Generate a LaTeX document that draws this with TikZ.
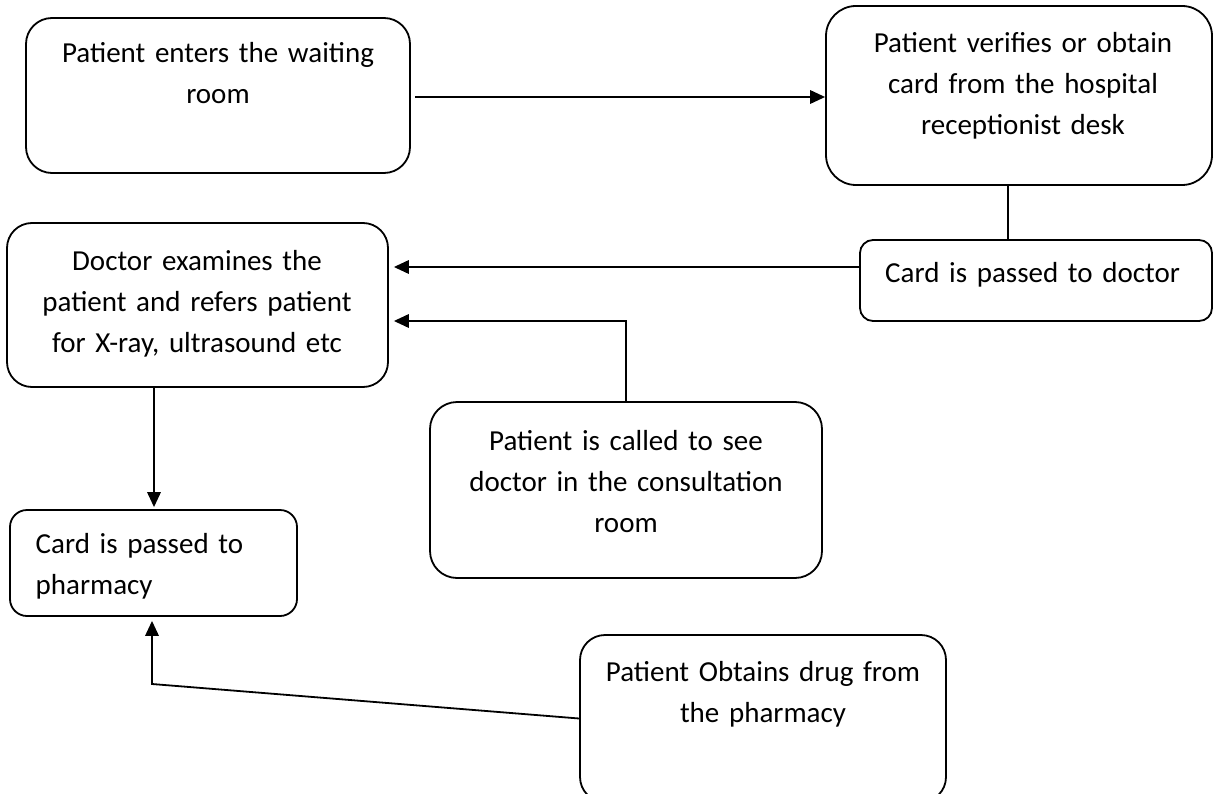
\documentclass[tikz,border=0pt]{standalone}
\usepackage{fontspec}
\setmainfont{Carlito}
\usetikzlibrary{arrows.meta,fit,calc}
\tikzset{
  box/.style={draw, line width=1.8pt, inner sep=0pt, rounded corners=#1},
  box/.default=26pt,
  ctext/.style={inner sep=0pt, anchor=base, align=center, text width=380pt, font=\fontsize{29}{41}\selectfont},
  ltext/.style={inner sep=0pt, anchor=base west, align=left, text width=340pt, font=\fontsize{29}{41}\selectfont},
  conn/.style={line width=1.8pt},
  arr/.style={conn, -{Triangle[length=15pt,width=13.5pt]}}
}
\begin{document}
\begin{tikzpicture}[x=1pt,y=-1pt]
\useasboundingbox (0,0) rectangle (1214,794);
\clip (0,0) rectangle (1214,794);
% boxes
\node[box, fit={(26,18) (410,173)}] (b1) {};
\node[box=30pt, fit={(826,6) (1212,185)}] (b2) {};
\node[box=13pt, fit={(860,240) (1212,321)}] (c2) {};
\node[box=25pt, fit={(7,223) (388,387)}] (d) {};
\node[box=27pt, fit={(430,402) (822,578)}] (cs) {};
\node[box=17pt, fit={(10,510) (297,616)}] (ph) {};
\node[box=25pt, fit={(580,635) (946,802)}] (ob) {};
% texts
\node[ctext] (t1) at (218,63) {Patient enters the waiting\\room};
\node[ctext] (t2) at (1023,53) {Patient verifies or obtain\\card from the hospital\\receptionist desk};
\node[ltext] (t3) at (885,282) {Card is passed to doctor};
\node[ctext] (t4) at (197,270) {Doctor examines the\\patient and refers patient\\for X-ray, ultrasound etc};
\node[ctext] (t5) at (626,450) {Patient is called to see\\doctor in the consultation\\room};
\node[ltext] (t6) at (35.5,553) {Card is passed to\\pharmacy};
\node[ctext] (t7) at (763,681) {Patient Obtains drug from\\the pharmacy};
% connectors
\draw[arr] ([xshift=4pt,yshift=-1.5pt]b1.east) -- ([yshift=-1.5pt]b1.east -| b2.west);
\draw[conn] ([xshift=-11pt]b2.south) -- ([xshift=-28pt]c2.north);
\draw[arr, shorten >=5pt] ([yshift=13.5pt]c2.west) -- ([yshift=13.5pt]c2.west -| d.east);
\draw[arr, shorten >=5pt] (cs.north) |- ([yshift=-16pt]d.east);
\draw[arr, shorten >=2pt] ([xshift=-43.5pt]d.south) -- ([xshift=-43.5pt]d.south |- ph.north);
\coordinate (k) at (152,684);
\draw[arr, shorten >=4pt] (ob.west) -- (k) -- (k |- ph.south);
\end{tikzpicture}
\end{document}
